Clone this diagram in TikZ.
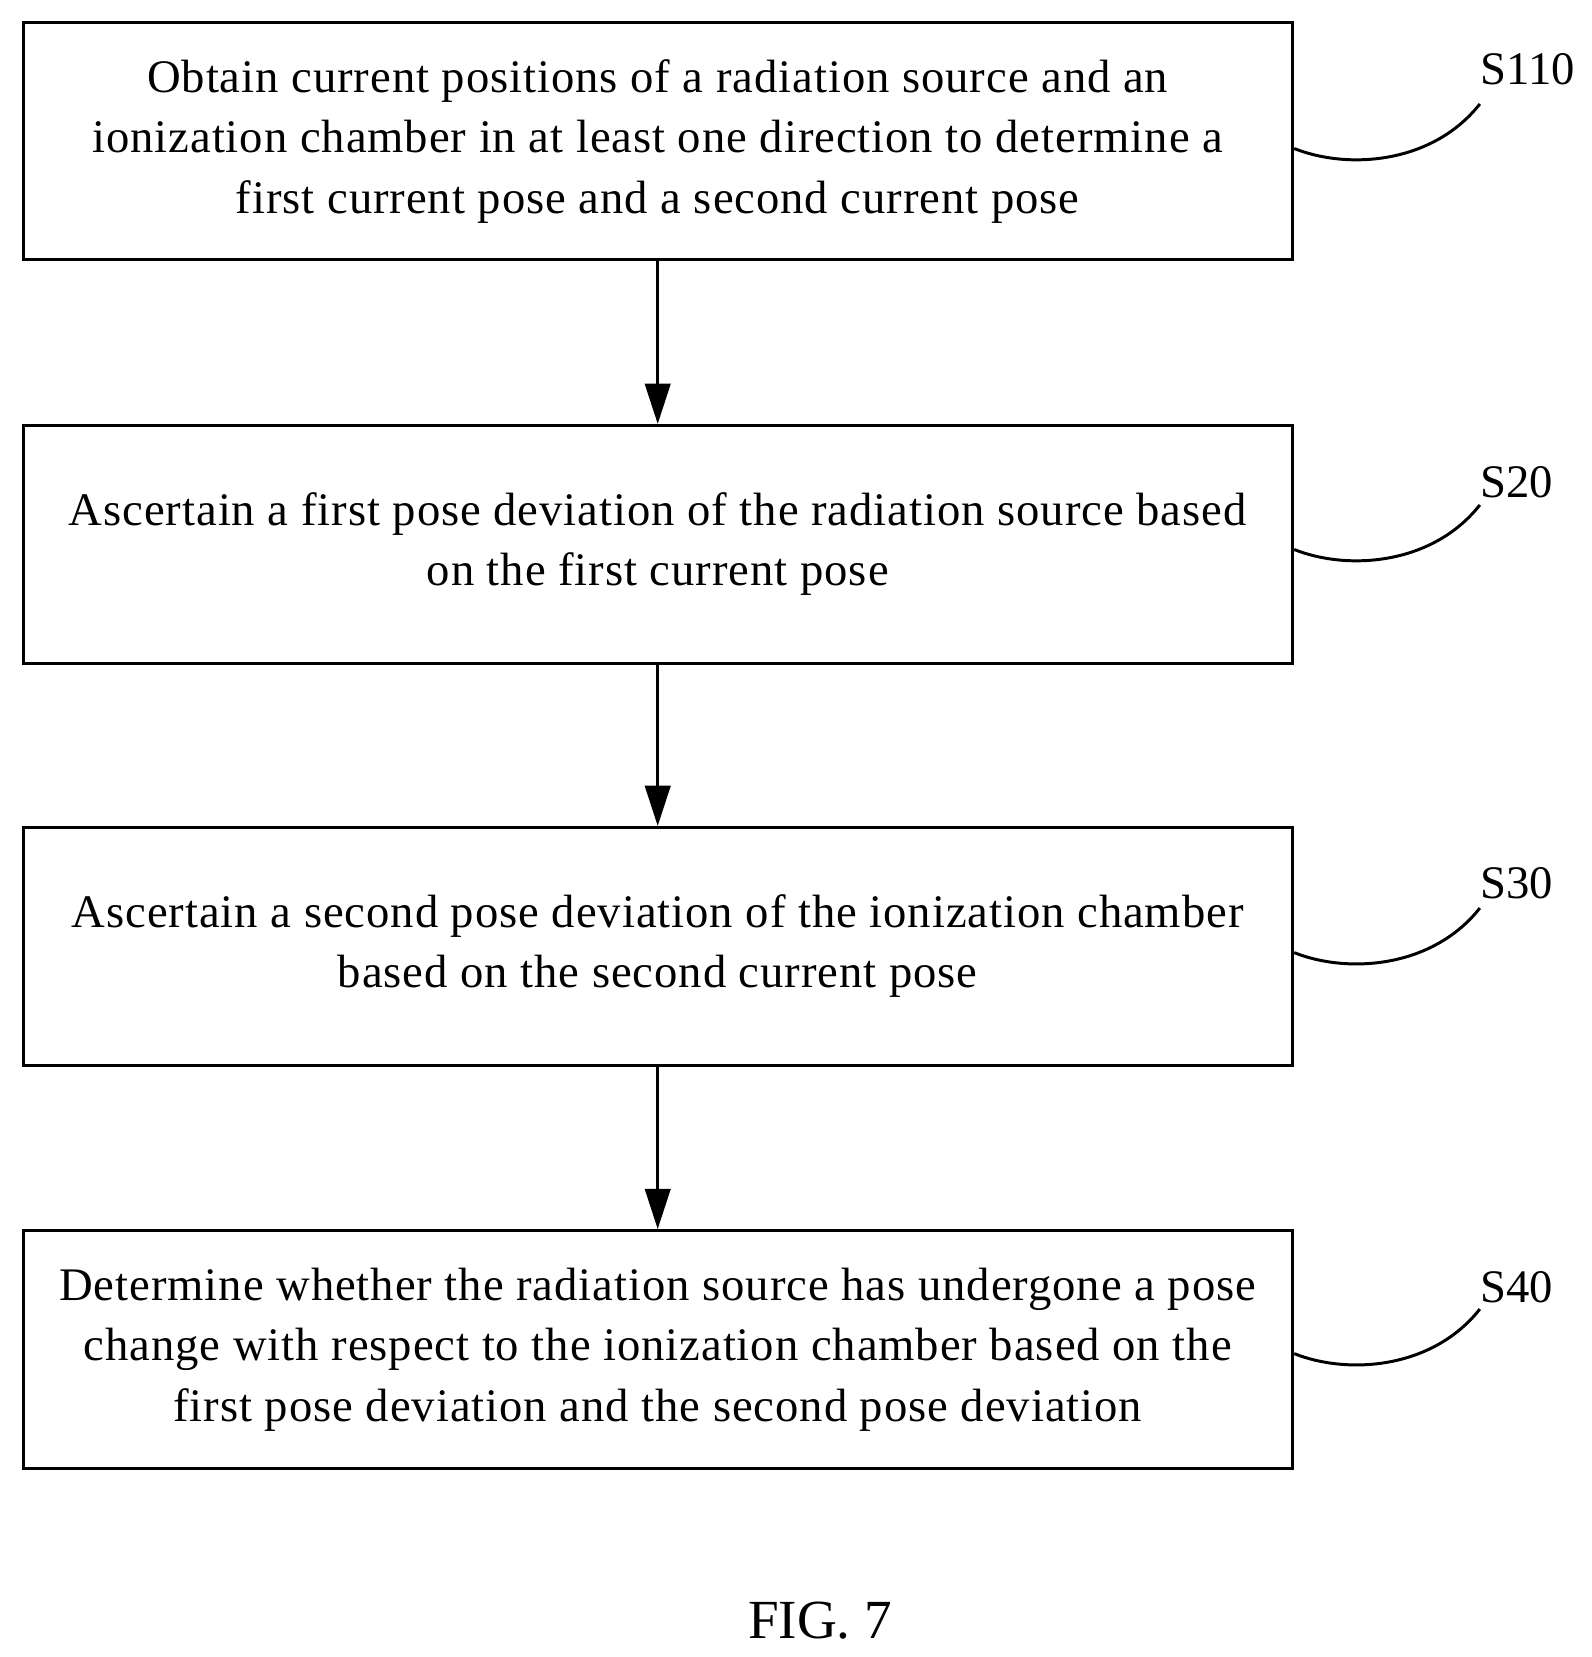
\documentclass[tikz,border=0pt]{standalone}
\usepackage{fontspec}
\setmainfont{Liberation Serif}
\usetikzlibrary{arrows.meta}
\newfontfamily\stepfont[LetterSpace=2]{Liberation Serif}
\begin{document}
\begin{tikzpicture}[x=0.5pt, y=-0.5pt,
  stepbox/.style={draw, line width=1.4pt, minimum width=598pt, minimum height=112pt, align=center, font=\stepfont\fontsize{22}{28.5}\selectfont},
  tag/.style={font=\fontsize{22}{24}\selectfont},
  link/.style={line width=1.4pt}]
\useasboundingbox (0,0) rectangle (1500,1562);
% 步骤
\node[stepbox] (s110) at (620,133) {Obtain current positions of a radiation source and an\\ ionization chamber in at least one direction to determine a\\ first current pose and a second current pose};
\node[stepbox] (s20) at (620,513) {Ascertain a first pose deviation of the radiation source based\\ on the first current pose};
\node[stepbox] (s30) at (620,892) {Ascertain a second pose deviation of the ionization chamber\\ based on the second current pose};
\node[stepbox] (s40) at (620,1272) {Determine whether the radiation source has undergone a pose\\ change with respect to the ionization chamber based on the\\ first pose deviation and the second pose deviation};
% 箭头
\draw[link, -{Triangle[length=19pt, width=12pt]}] (s110) -- (s20);
\draw[link, -{Triangle[length=19pt, width=12pt]}] (s20) -- (s30);
\draw[link, -{Triangle[length=19pt, width=12pt]}] (s30) -- (s40);
% 标号
\node[tag] (t110) at (1440,65) {S110};
\node[tag] (t20) at (1430,455) {S20};
\node[tag] (t30) at (1430,833) {S30};
\node[tag] (t40) at (1430,1213) {S40};
\foreach \s/\y in {s110/140, s20/518, s30/898, s40/1276}
  \draw[link] (1220,\y) .. controls (1270,\y+20) and (1350,\y+15) .. (1395,\y-42);
%Text
\node[font=\fontsize{26}{28}\selectfont] (fig) at (773,1528) {FIG. 7};
\end{tikzpicture}
\end{document}
